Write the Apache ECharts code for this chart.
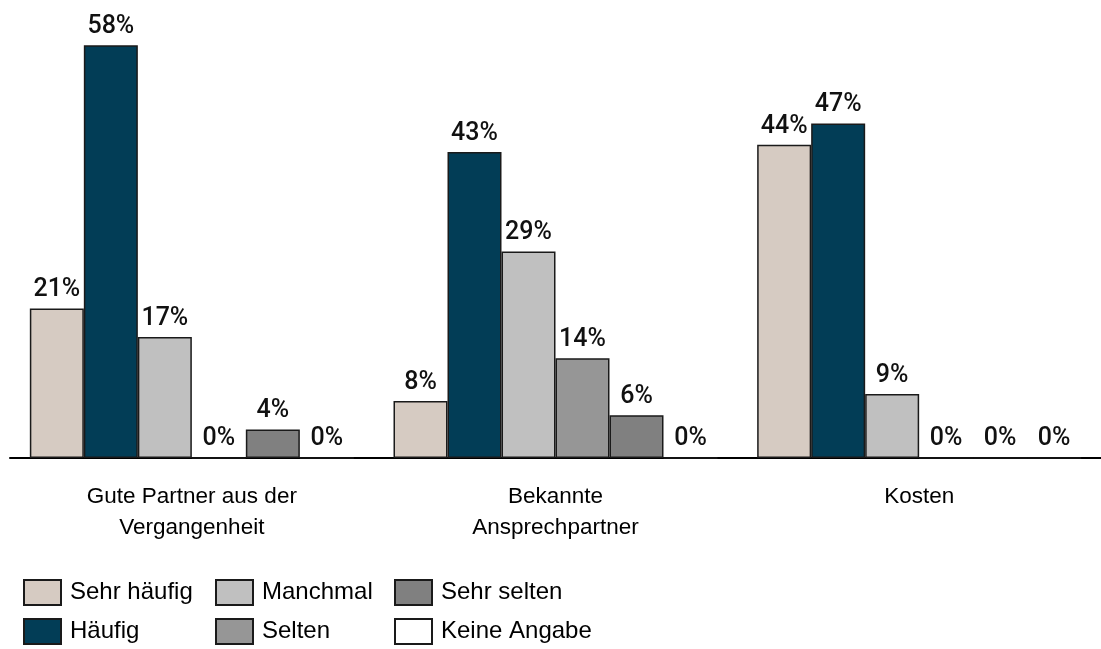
<!DOCTYPE html>
<html>
<head>
<meta charset="utf-8">
<script src="https://cdn.jsdelivr.net/npm/echarts@6/dist/echarts.min.js"></script>
<style>
	html, body { margin: 0; padding: 0; background: #fff; }
	#chart { width: 1101px; height: 649px; }
</style>
</head>
<body>
<div id="chart"></div>
<script>
var categories = [
	"Gute Partner aus der\nVergangenheit",
	"Bekannte\nAnsprechpartner",
	"Kosten",
];

var seriesNames = ["Sehr häufig", "Häufig", "Manchmal", "Selten", "Sehr selten", "Keine Angabe"];

var sehrHaeufig = [21, 8, 44];
var haeufig = [58, 43, 47];
var manchmal = [17, 29, 9];
var selten = [0, 14, 0];
var sehrSelten = [4, 6, 0];
var keineAngabe = [0, 0, 0];

var colors = ["#d6cbc2", "#023d56", "#c0c0c0", "#969696", "#808080", "#ffffff"];

const labelOption = {
	show: true,
	position: 'top',
	distance: 6,
	formatter: '{c}%',
	fontFamily: 'Roboto, "Liberation Sans", sans-serif',
	fontWeight: 500,
	fontSize: 25,
	color: '#111',
};

function makeSeries(name, data, color) {
	return {
		name: name,
		type: 'bar',
		data: data,
		barWidth: 54,
		barGap: '0%',
		label: labelOption,
		itemStyle: {
			color: color,
			borderColor: '#1a1a1a',
			borderWidth: 1.5,
		},
	};
}

function makeLegend(left, names) {
	return {
		orient: 'vertical',
		left: left,
		top: 579,
		height: 120,
		padding: 0,
		itemWidth: 37,
		itemHeight: 25,
		itemGap: 12,
		icon: 'rect',
		selectedMode: false,
		data: names,
		textStyle: {
			fontFamily: '"Liberation Sans", Arial, sans-serif',
			fontSize: 24,
			lineHeight: 25,
			color: '#000',
			padding: [0, 0, 0, 4],
		},
	};
}

var myChart = echarts.init(document.getElementById("chart"));
var option = {
	animation: false,
	grid: {
		left: 10,
		right: 0,
		top: 31,
		bottom: 191,
	},
	legend: [
		makeLegend(23, [seriesNames[0], seriesNames[1]]),
		makeLegend(215, [seriesNames[2], seriesNames[3]]),
		makeLegend(394, [seriesNames[4], seriesNames[5]]),
	],
	xAxis: {
		type: 'category',
		data: categories,
		axisTick: { show: false },
		axisLine: { lineStyle: { color: '#000', width: 2 } },
		axisLabel: {
			margin: 23,
			fontFamily: '"Liberation Sans", Arial, sans-serif',
			fontSize: 22.5,
			lineHeight: 31,
			color: '#000',
		},
	},
	yAxis: {
		type: 'value',
		min: 0,
		max: 60,
		show: false,
		splitLine: { show: false },
	},
	series: [
		makeSeries(seriesNames[0], sehrHaeufig, colors[0]),
		makeSeries(seriesNames[1], haeufig, colors[1]),
		makeSeries(seriesNames[2], manchmal, colors[2]),
		makeSeries(seriesNames[3], selten, colors[3]),
		makeSeries(seriesNames[4], sehrSelten, colors[4]),
		makeSeries(seriesNames[5], keineAngabe, colors[5]),
	],
};
option && myChart.setOption(option);
</script>
</body>
</html>
